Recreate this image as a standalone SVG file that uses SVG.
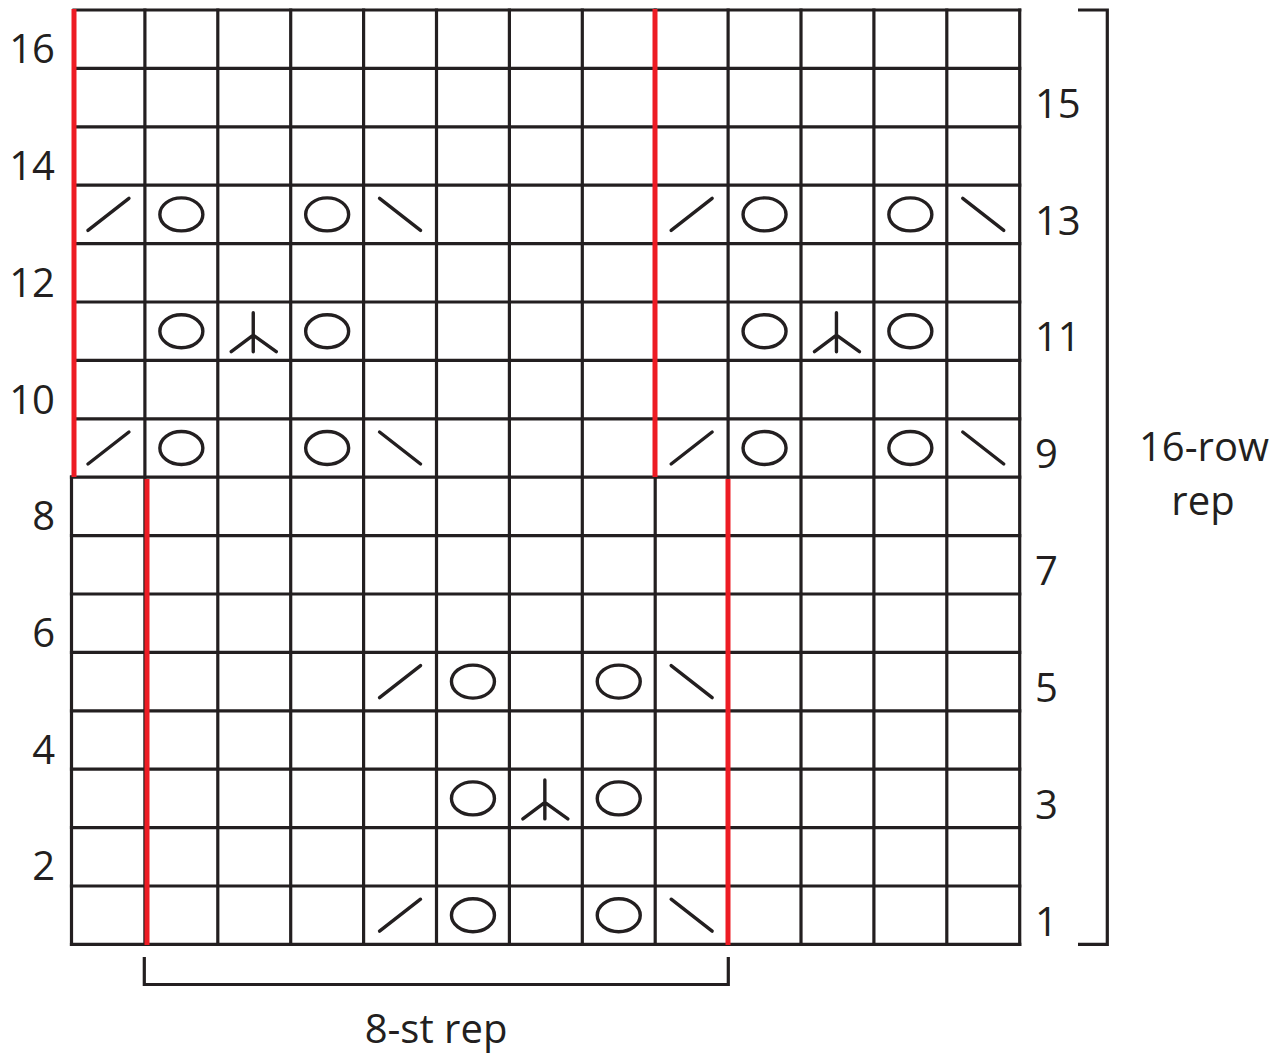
<svg xmlns="http://www.w3.org/2000/svg" xmlns:xlink="http://www.w3.org/1999/xlink" width="1285" height="1057" viewBox="0 0 1285 1057">
<style>
.grid{stroke:#231f20;stroke-width:3.2;fill:none;stroke-linecap:square}
.red{stroke:#ed1c24;stroke-width:5;fill:none}
.sym{stroke:#231f20;stroke-width:3.4;fill:none;stroke-linecap:round;stroke-linejoin:round}
.brk{stroke:#231f20;stroke-width:3.2;fill:none}
.lbl{font-family:"Open Sans","Noto Sans","DejaVu Sans",sans-serif;font-size:40px;fill:#231f20}
.l{text-anchor:end}
.r{text-anchor:start}
.c{text-anchor:middle}
</style>
<defs>
<line id="k2tog" x1="-20.5" y1="16" x2="20.5" y2="-16"/>
<line id="ssk" x1="-20.5" y1="-16" x2="20.5" y2="16"/>
<ellipse id="yo" cx="0" cy="0" rx="21.5" ry="16.5"/>
<path id="cdd" d="M-1,-18.5 V20.5 M-23,20.5 L-1,4 L22,20.5"/>
</defs>
<rect width="1285" height="1057" fill="#ffffff"/>
<g id="grid" class="grid">
<path d="M74,10 H1019.7 M74,68.4 H1019.7 M74,126.8 H1019.7 M74,185.2 H1019.7 M74,243.6 H1019.7 M74,302 H1019.7 M74,360.4 H1019.7 M74,418.8 H1019.7 M71.5,477.2 H1019.7 M71.5,535.6 H1019.7 M71.5,594 H1019.7 M71.5,652.4 H1019.7 M71.5,710.8 H1019.7 M71.5,769.2 H1019.7 M71.5,827.6 H1019.7 M71.5,886 H1019.7 M71.5,944.4 H1019.7"/>
<path d="M71.5,477.2 V944.4 M144.9,10 V944.4 M217.8,10 V944.4 M290.7,10 V944.4 M363.6,10 V944.4 M436.5,10 V944.4 M509.4,10 V944.4 M582.3,10 V944.4 M655.2,10 V944.4 M728.1,10 V944.4 M801,10 V944.4 M873.9,10 V944.4 M946.8,10 V944.4 M1019.7,10 V944.4"/>
</g>
<g id="repeat-lines" class="red">
<line x1="74" y1="9" x2="74" y2="477"/>
<line x1="655" y1="9" x2="655" y2="477"/>
<line x1="147" y1="479" x2="147" y2="945"/>
<line x1="728" y1="479" x2="728" y2="945"/>
</g>
<g id="symbols" class="sym">
<g id="row13">
<use href="#k2tog" x="108.45" y="214.4"/>
<use href="#yo" x="181.35" y="214.4"/>
<use href="#yo" x="327.15" y="214.4"/>
<use href="#ssk" x="400.05" y="214.4"/>
<use href="#k2tog" x="691.65" y="214.4"/>
<use href="#yo" x="764.55" y="214.4"/>
<use href="#yo" x="910.35" y="214.4"/>
<use href="#ssk" x="983.25" y="214.4"/>
</g>
<g id="row11">
<use href="#yo" x="181.35" y="331.2"/>
<use href="#cdd" x="254.25" y="331.2"/>
<use href="#yo" x="327.15" y="331.2"/>
<use href="#yo" x="764.55" y="331.2"/>
<use href="#cdd" x="837.45" y="331.2"/>
<use href="#yo" x="910.35" y="331.2"/>
</g>
<g id="row9">
<use href="#k2tog" x="108.45" y="448"/>
<use href="#yo" x="181.35" y="448"/>
<use href="#yo" x="327.15" y="448"/>
<use href="#ssk" x="400.05" y="448"/>
<use href="#k2tog" x="691.65" y="448"/>
<use href="#yo" x="764.55" y="448"/>
<use href="#yo" x="910.35" y="448"/>
<use href="#ssk" x="983.25" y="448"/>
</g>
<g id="row5">
<use href="#k2tog" x="400.05" y="681.6"/>
<use href="#yo" x="472.95" y="681.6"/>
<use href="#yo" x="618.75" y="681.6"/>
<use href="#ssk" x="691.65" y="681.6"/>
</g>
<g id="row3">
<use href="#yo" x="472.95" y="798.4"/>
<use href="#cdd" x="545.85" y="798.4"/>
<use href="#yo" x="618.75" y="798.4"/>
</g>
<g id="row1">
<use href="#k2tog" x="400.05" y="915.2"/>
<use href="#yo" x="472.95" y="915.2"/>
<use href="#yo" x="618.75" y="915.2"/>
<use href="#ssk" x="691.65" y="915.2"/>
</g>
</g>
<g id="row-labels-left" class="lbl l">
<text x="55" y="63">16</text>
<text x="55" y="180">14</text>
<text x="55" y="297">12</text>
<text x="55" y="414">10</text>
<text x="55" y="530">8</text>
<text x="55" y="647">6</text>
<text x="55" y="764">4</text>
<text x="55" y="880">2</text>
</g>
<g id="row-labels-right" class="lbl r">
<text x="1035" y="118">15</text>
<text x="1035" y="234.5">13</text>
<text x="1035" y="351">11</text>
<text x="1035" y="468">9</text>
<text x="1035" y="585">7</text>
<text x="1035" y="701.5">5</text>
<text x="1035" y="818.5">3</text>
<text x="1035" y="936">1</text>
</g>
<g id="row-repeat">
<path class="brk" d="M1078,10 H1107.3 V944.3 H1078"/>
<text class="lbl c" x="1204" y="461">16-row</text>
<text class="lbl c" x="1203" y="515">rep</text>
</g>
<g id="stitch-repeat">
<path class="brk" d="M144.3,957 V984.5 H728.3 V957"/>
<text class="lbl c" x="436" y="1043">8-st rep</text>
</g>
</svg>
